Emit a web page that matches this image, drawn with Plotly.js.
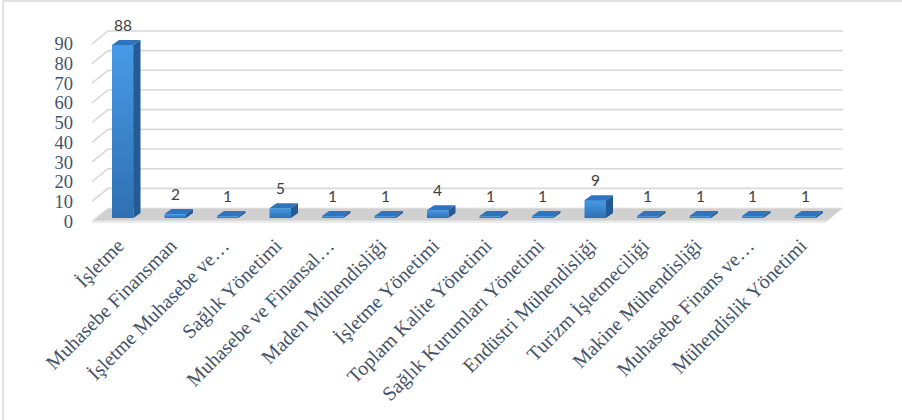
<!DOCTYPE html>
<html>
<head>
<meta charset="utf-8">
<script src="https://cdn.plot.ly/plotly-3.0.1.min.js"></script>
<style>
html,body{margin:0;padding:0;background:#fff;}
#chart{width:902px;height:420px;}
</style>
</head>
<body>
<div id="chart"></div>
<script>
// ---- data ----
const categories = [
  "İşletme",
  "Muhasebe Finansman",
  "İşletme Muhasebe ve…",
  "Sağlık Yönetimi",
  "Muhasebe ve Finansal…",
  "Maden Mühendisliği",
  "İşletme Yönetimi",
  "Toplam Kalite Yönetimi",
  "Sağlık Kurumları Yönetimi",
  "Endüstri Mühendisliği",
  "Turizm İşletmeciliği",
  "Makine Mühendisliği",
  "Muhasebe Finans ve…",
  "Mühendislik Yönetimi"
];
const counts = [88, 2, 1, 5, 1, 1, 4, 1, 1, 9, 1, 1, 1, 1];
const yTicks = [0, 10, 20, 30, 40, 50, 60, 70, 80, 90];

// ---- 3D look (in axis units) ----
const PX_X = 52.5, PX_Y = 206 / 104.7;
const floorDX = 16 / PX_X, floorDY = 13 / PX_Y;
const barOffX = 4.5 / PX_X, barBase = 3 / PX_Y, barW = 21.5 / PX_X;
const barDX = 7 / PX_X, barDY = 5 / PX_Y;
const n = categories.length;
const idx = categories.map((_, i) => i);
const xMin = -0.5, xMax = n - 0.5;

const traces = [];

// back-wall gridlines
const gx = [], gy = [];
yTicks.filter(v => v > 0).forEach(v => {
  gx.push(xMin, xMin + floorDX, xMax + floorDX, null);
  gy.push(v, v + floorDY, v + floorDY, null);
});
traces.push({x: gx, y: gy, mode: 'lines', line: {color: '#d9d9d9', width: 1.6},
  hoverinfo: 'skip', showlegend: false});

// floor
traces.push({x: [xMin, xMax, xMax + floorDX, xMin + floorDX, xMin],
  y: [0, 0, floorDY, floorDY, 0], mode: 'lines', fill: 'toself',
  fillcolor: '#d0d0d0', line: {color: '#e6e6e6', width: 1},
  hoverinfo: 'skip', showlegend: false});
traces.push({x: [xMin, xMax], y: [-0.6, -0.6], mode: 'lines',
  line: {color: '#e3e3e3', width: 1.2}, hoverinfo: 'skip', showlegend: false});

// bar front faces
traces.push({type: 'bar', x: idx.map(i => i + barOffX), y: counts,
  base: barBase, width: barW,
  marker: {color: '#3a88d5', line: {width: 0}},
  hoverinfo: 'skip', showlegend: false});

// bar shading: front gradient, tops and sides
counts.forEach((v, i) => {
  const xl = i + barOffX - barW / 2, xr = i + barOffX + barW / 2;
  const top = barBase + v, bot = barBase;
  traces.push({x: [xl, xr, xr, xl, xl], y: [bot, bot, top, top, bot],
    mode: 'lines', fill: 'toself',
    fillgradient: {type: 'vertical', colorscale: [[0, '#2f70b2'], [1, '#479ae6']]},
    line: {width: 0}, hoverinfo: 'skip', showlegend: false});
  traces.push({x: [xl, xr, xr + barDX, xl + barDX, xl],
    y: [top, top, top + barDY, top + barDY, top],
    mode: 'lines', fill: 'toself', fillcolor: '#2f74bc',
    line: {width: 0}, hoverinfo: 'skip', showlegend: false});
  traces.push({x: [xr, xr + barDX, xr + barDX, xr, xr],
    y: [bot, bot + barDY, top + barDY, top, bot],
    mode: 'lines', fill: 'toself', fillcolor: '#245a95',
    line: {width: 0}, hoverinfo: 'skip', showlegend: false});
});

// value labels
const annotations = counts.map((v, i) => ({
  x: i, y: v, xref: 'x', yref: 'y', xshift: 4.5, yshift: 23,
  text: String(v), showarrow: false,
  font: {family: 'Lato, "Open Sans", sans-serif', size: 15.5, color: '#404040'}
}));

const layout = {
  width: 902, height: 420,
  margin: {l: 92, r: 54, t: 18, b: 196, pad: 0},
  paper_bgcolor: '#ffffff', plot_bgcolor: 'rgba(0,0,0,0)',
  showlegend: false,
  bargap: 0,
  xaxis: {
    range: [xMin, 13.9], tickmode: 'array', tickvals: idx, ticktext: categories,
    tickangle: -45, showgrid: false, zeroline: false, showline: false, ticks: '',
    automargin: false, fixedrange: true, ticklabelstandoff: 5,
    tickfont: {family: '"Liberation Serif", "Times New Roman", serif', size: 20, color: '#44546A'}
  },
  yaxis: {
    range: [-1.5, 103.2], tickmode: 'array', tickvals: yTicks,
    showgrid: false, zeroline: false, showline: false, ticks: '',
    automargin: false, fixedrange: true, ticklabelstandoff: 18,
    tickfont: {family: '"Liberation Serif", "Times New Roman", serif', size: 18.5, color: '#44546A'}
  },
  annotations: annotations,
  shapes: [
    {type: 'line', xref: 'paper', yref: 'paper', x0: -89/756, x1: 2, y0: 1 + 17/206, y1: 1 + 17/206,
      line: {color: '#d9d9d9', width: 1.5}},
    {type: 'line', xref: 'paper', yref: 'paper', x0: -89/756, x1: -89/756, y0: 1 + 17/206, y1: -3,
      line: {color: '#d9d9d9', width: 1.5}}
  ]
};

Plotly.newPlot('chart', traces, layout, {staticPlot: true, displayModeBar: false});
</script>
</body>
</html>
